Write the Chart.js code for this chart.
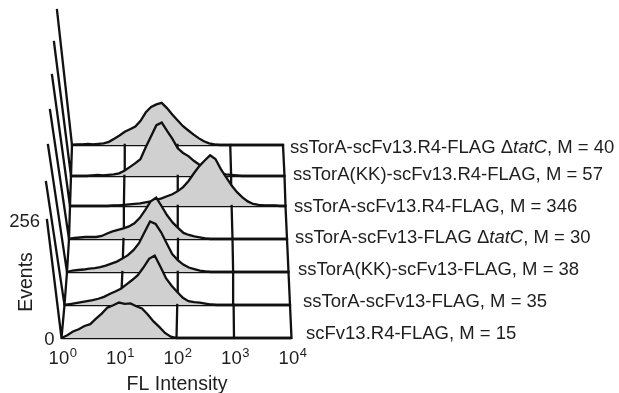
<!DOCTYPE html>
<html>
<head>
<meta charset="utf-8">
<script src="https://cdn.jsdelivr.net/npm/chart.js@4/dist/chart.umd.min.js"></script>
<style>
    html, body { margin: 0; padding: 0; background: #fff; }
    #wrap { width: 619px; height: 393px; }
</style>
</head>
<body>
<div id="wrap"><canvas id="histChart" width="619" height="393"></canvas></div>
<script>
// FL intensity channels, as log10 (10^0 .. 10^4)
const LOG_BINS = [0.0, 0.1, 0.2, 0.3, 0.4, 0.5, 0.6, 0.7, 0.8, 0.9,
                  1.0, 1.1, 1.2, 1.3, 1.4, 1.5, 1.6, 1.7, 1.8, 1.9,
                  2.0, 2.1, 2.2, 2.3, 2.4, 2.5, 2.6, 2.7, 2.8, 2.9,
                  3.0, 3.1, 3.2, 3.3, 3.4, 3.5, 3.6, 3.7, 3.8, 3.9, 4.0];

const X_TICKS = [0, 1, 2, 3, 4];     // exponents of 10
const Y_TICKS = [0, 256];            // events

// samples, front (bottom) to back (top)
const SAMPLE_NAMES = [
    'scFv13.R4-FLAG',
    'ssTorA-scFv13-FLAG',
    'ssTorA(KK)-scFv13-FLAG',
    'ssTorA-scFv13-FLAG',
    'ssTorA-scFv13.R4-FLAG',
    'ssTorA(KK)-scFv13.R4-FLAG',
    'ssTorA-scFv13.R4-FLAG'
];
const SAMPLE_TATC = [false, false, false, true, false, false, true];
const SAMPLE_M = [15, 35, 38, 30, 346, 57, 40];

// event counts per channel
const scFv13R4 = [0, 6, 14, 19, 26, 30, 42, 53, 66, 71, 77, 74, 75, 69, 64, 51, 36, 24, 11, 3,
                  0, 0, 0, 0, 0, 0, 0, 0, 0, 0, 0, 0, 0, 0, 0, 0, 0, 0, 0, 0, 0];
const torA13 = [0, 2, 4, 6, 8, 10, 13, 17, 23, 28, 34, 43, 52, 62, 78, 96, 103, 80, 56, 40,
                27, 15, 8, 6, 5, 3, 1, 0, 0, 0, 0, 0, 0, 0, 0, 0, 0, 0, 0, 0, 0];
const torAKK13 = [0, 3, 4, 5, 7, 8, 10, 13, 17, 21, 27, 34, 44, 58, 80, 102, 97, 80, 58, 36,
                  24, 15, 9, 6, 3, 1, 0, 0, 0, 0, 0, 0, 0, 0, 0, 0, 0, 0, 0, 0, 0];
const torA13Tatc = [0, 2, 3, 4, 4, 4, 6, 11, 15, 18, 21, 25, 31, 42, 58, 75, 82, 65, 47, 33,
                    22, 12, 8, 5, 3, 1, 0, 0, 0, 0, 0, 0, 0, 0, 0, 0, 0, 0, 0, 0, 0];
const torAR4 = [0, 0, 0, 0, 0, 0, 0, 0, 1, 1, 2, 3, 4, 5, 7, 9, 12, 15, 19, 23,
                29, 37, 49, 64, 78, 89, 99, 92, 72, 56, 40, 27, 17, 9, 4, 2, 1, 1, 1, 0, 0];
const torAKKR4 = [0, 0, 0, 0, 1, 2, 1, 2, 3, 5, 10, 17, 24, 32, 55, 76, 97, 102, 86, 71,
                  53, 44, 38, 29, 22, 16, 11, 8, 5, 3, 2, 1, 0, 0, 0, 0, 0, 0, 0, 0, 0];
const torAR4Tatc = [0, 1, 1, 2, 1, 2, 3, 6, 12, 18, 25, 30, 35, 46, 62, 72, 77, 80, 70, 58,
                    47, 36, 28, 20, 13, 7, 3, 1, 0, 0, 0, 0, 0, 0, 0, 0, 0, 0, 0, 0, 0];
const COUNTS = [scFv13R4, torA13, torAKK13, torA13Tatc, torAR4, torAKKR4, torAR4Tatc];

// --- layout of the staggered panels (pixels) ---
const W = 619, H = 393;
const BASE_Y  = [338, 305, 272, 239, 206, 176, 145];
const LEFT_X  = [61.5, 64.5, 67, 69, 70, 71, 72];
const RIGHT_X = [291.5, 290, 288.5, 287, 285.5, 284.5, 283];
const AXIS_H  = [118, 123, 127, 129, 131, 134, 135];
const AXIS_TILT = [14.5, 18.5, 19, 19, 18, 17, 15];
const LABEL_X = [306, 303, 298, 295, 294, 293, 290];
const LABEL_Y = [339, 306.5, 275, 243, 211.5, 180, 153];

const FONT = '"Liberation Sans", Arial, sans-serif';
const INK = '#111';
const TEXT = '#1e1e1e';
const FILL = 'rgb(208, 208, 208)';
const LINE_W = 2.3;

function pxPerDecade(k) { return (RIGHT_X[k] - LEFT_X[k]) / 4; }
function xUnit(k, px) { return (px - LEFT_X[k]) / pxPerDecade(k); }
function yUnit(k, py) { return (BASE_Y[k] - py) / AXIS_H[k] * 256; }

// one hidden x/y scale pair per panel
const scales = {};
for (let k = 0; k < 7; k++) {
    const sx = pxPerDecade(k);
    const xmin = -LEFT_X[k] / sx;
    scales['x' + k] = { type: 'linear', display: false, min: xmin, max: xmin + W / sx };
    const sy = AXIS_H[k] / 256;
    const ymin = -(H - BASE_Y[k]) / sy;
    scales['y' + k] = { type: 'linear', display: false, min: ymin, max: ymin + H / sy };
}

const datasets = [];
for (let k = 0; k < 7; k++) {
    // grid: baseline, tilted events axis, decade lines up to the next panel
    const grid = [{ x: 0, y: 0 }, { x: 4, y: 0 }, { x: 0, y: null },
                  { x: 0, y: 0 }, { x: -AXIS_TILT[k] / pxPerDecade(k), y: 256 }, { x: 0, y: null }];
    if (k < 6) {
        X_TICKS.forEach(d => {
            const topPx = LEFT_X[k + 1] + d * pxPerDecade(k + 1);
            grid.push({ x: d, y: 0 });
            grid.push({ x: xUnit(k, topPx), y: yUnit(k, BASE_Y[k + 1]) });
            grid.push({ x: d, y: null });
        });
    }
    datasets.push({
        data: grid,
        xAxisID: 'x' + k, yAxisID: 'y' + k,
        borderColor: INK, borderWidth: LINE_W, fill: false,
        pointRadius: 0, spanGaps: false, tension: 0,
        borderCapStyle: 'square',
        order: 2 * k + 1
    });
    datasets.push({
        label: SAMPLE_NAMES[k],
        data: LOG_BINS.map((x, i) => ({ x: x, y: COUNTS[k][i] })),
        xAxisID: 'x' + k, yAxisID: 'y' + k,
        borderColor: INK, borderWidth: LINE_W,
        backgroundColor: FILL, fill: 'origin',
        pointRadius: 0, tension: 0,
        order: 2 * k
    });
}

// axis labels and sample names
const textPlugin = {
    id: 'panelText',
    afterDraw(chart) {
        const ctx = chart.ctx;
        ctx.save();
        ctx.fillStyle = TEXT;

        // sample labels on the right of each panel
        ctx.textBaseline = 'alphabetic';
        ctx.textAlign = 'left';
        for (let k = 0; k < 7; k++) {
            let x = LABEL_X[k];
            const y = LABEL_Y[k];
            const parts = [[SAMPLE_NAMES[k], 'normal']];
            if (SAMPLE_TATC[k]) {
                parts.push([' \u0394', 'normal']);
                parts.push(['tatC', 'italic']);
            }
            parts.push([', M = ' + SAMPLE_M[k], 'normal']);
            parts.forEach(([str, style]) => {
                ctx.font = style + ' 18.5px ' + FONT;
                ctx.fillText(str, x, y);
                x += ctx.measureText(str).width;
            });
        }

        // x ticks: 10^n under the front panel
        const sx = chart.scales.x0;
        X_TICKS.forEach(d => {
            const px = sx.getPixelForValue(d);
            ctx.font = '18.5px ' + FONT;
            const wBase = ctx.measureText('10').width;
            ctx.font = '13px ' + FONT;
            const wExp = ctx.measureText(String(d)).width;
            const left = px + 1 - (wBase + wExp) / 2;
            ctx.font = '18.5px ' + FONT;
            ctx.fillText('10', left, 363.5);
            ctx.font = '13px ' + FONT;
            ctx.fillText(String(d), left + wBase + 0.5, 356.5);
        });

        // events ticks on the front panel axis
        const sy = chart.scales.y0;
        ctx.font = '18.5px ' + FONT;
        ctx.textAlign = 'right';
        ctx.textBaseline = 'middle';
        Y_TICKS.forEach(v => {
            const py = sy.getPixelForValue(v);
            const px = sx.getPixelForValue(0) - AXIS_TILT[0] * v / 256;
            ctx.fillText(String(v), px - 7, py + 2);
        });

        // axis titles
        ctx.font = '19.5px ' + FONT;
        ctx.textAlign = 'center';
        ctx.textBaseline = 'alphabetic';
        ctx.fillText('FL Intensity', 177, 390);
        ctx.translate(32, 282);
        ctx.rotate(-Math.PI / 2);
        ctx.fillText('Events', 0, 0);
        ctx.restore();
    }
};

new Chart(document.getElementById('histChart'), {
    type: 'line',
    data: { datasets },
    options: {
        responsive: false,
        animation: false,
        events: [],
        layout: { padding: 0 },
        scales: scales,
        plugins: {
            legend: { display: false },
            tooltip: { enabled: false }
        }
    },
    plugins: [textPlugin]
});
</script>
</body>
</html>
